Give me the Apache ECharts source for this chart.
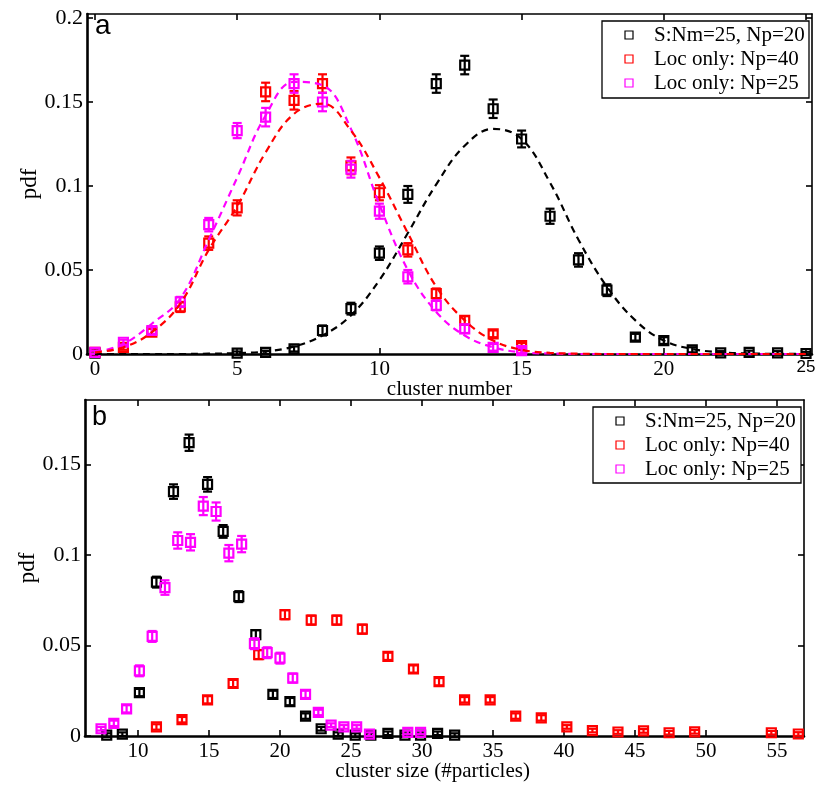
<!DOCTYPE html>
<html>
<head>
<meta charset="utf-8">
<script src="https://cdn.jsdelivr.net/npm/echarts@6/dist/echarts.min.js"></script>
<style>
html,body{margin:0;padding:0;background:#fff;}
#chart{width:818px;height:788px;}
</style>
</head>
<body>
<div id="chart"></div>
<script>
// ---------- DATA ----------
const seriesNames = ['S:Nm=25, Np=20', 'Loc only: Np=40', 'Loc only: Np=25'];

// Panel a: cluster number
const aBlackX   = [0, 5, 6, 7, 8, 9, 10, 11, 12, 13, 14, 15, 16, 17, 18, 19, 20, 21, 22, 23, 24, 25];
const aBlackY   = [0.0005, 0.0005, 0.001, 0.003, 0.014, 0.027, 0.060, 0.095, 0.161, 0.172, 0.146, 0.128, 0.082, 0.056, 0.038, 0.010, 0.008, 0.0025, 0.0007, 0.001, 0.0007, 0.0003];
const aBlackErr = [0.001, 0.001, 0.001, 0.0015, 0.003, 0.0035, 0.004, 0.005, 0.0055, 0.0055, 0.0055, 0.005, 0.0045, 0.004, 0.0035, 0.002, 0.002, 0.0015, 0.001, 0.001, 0.001, 0.001];

const aLocX     = [0, 1, 2, 3, 4, 5, 6, 7, 8, 9, 10, 11, 12, 13, 14, 15];
const aRedY     = [0.001, 0.004, 0.013, 0.028, 0.066, 0.087, 0.156, 0.151, 0.161, 0.112, 0.096, 0.062, 0.036, 0.020, 0.012, 0.005];
const aMagY     = [0.001, 0.007, 0.014, 0.031, 0.077, 0.133, 0.141, 0.161, 0.150, 0.110, 0.085, 0.046, 0.029, 0.015, 0.004, 0.002];
const aLocErr   = [0.001, 0.0015, 0.002, 0.003, 0.004, 0.0045, 0.0055, 0.0055, 0.0055, 0.005, 0.0045, 0.004, 0.003, 0.0025, 0.002, 0.0015];

// dashed fit curves (read at integer cluster numbers)
const aCurveX   = [0, 1, 2, 3, 4, 5, 6, 7, 8, 9, 10, 11, 12, 13, 14, 15, 16, 17, 18, 19, 20, 21, 22, 23, 24, 25];
const aCurveBlack = [0, 0, 0, 0, 0.0002, 0.0005, 0.0015, 0.0045, 0.011, 0.023, 0.044, 0.072, 0.101, 0.124, 0.134, 0.128, 0.102, 0.068, 0.040, 0.020, 0.008, 0.003, 0.001, 0.0003, 0.0001, 0];
const aCurveRed   = [0.001, 0.004, 0.013, 0.030, 0.062, 0.088, 0.120, 0.143, 0.149, 0.133, 0.105, 0.072, 0.040, 0.020, 0.008, 0.0025, 0.0007, 0.0002, 0, 0, 0, 0, 0, 0, 0, 0];
const aCurveMag   = [0.001, 0.006, 0.018, 0.033, 0.068, 0.105, 0.142, 0.162, 0.160, 0.134, 0.089, 0.050, 0.025, 0.011, 0.004, 0.001, 0.0003, 0, 0, 0, 0, 0, 0, 0, 0, 0];

// Panel b: cluster size
const bBlackX   = [7.8, 8.9, 10.1, 11.3, 12.5, 13.6, 14.9, 16.0, 17.1, 18.3, 19.5, 20.7, 21.8, 22.9, 24.1, 25.3, 26.4, 27.6, 28.8, 29.9, 31.1, 32.3];
const bBlackY   = [0.0005, 0.001, 0.024, 0.085, 0.135, 0.162, 0.139, 0.113, 0.077, 0.056, 0.023, 0.019, 0.011, 0.004, 0.001, 0.0005, 0.0005, 0.0015, 0.0005, 0.0005, 0.0015, 0.0005];
const bBlackErr = [0.001, 0.001, 0.002, 0.003, 0.004, 0.0045, 0.004, 0.0035, 0.003, 0.0025, 0.002, 0.002, 0.0015, 0.001, 0.001, 0.001, 0.001, 0.001, 0.001, 0.001, 0.001, 0.001];

const bRedX     = [11.3, 13.1, 14.9, 16.7, 18.5, 20.35, 22.2, 24.0, 25.8, 27.6, 29.4, 31.2, 33.0, 34.8, 36.6, 38.4, 40.2, 42.0, 43.8, 45.6, 47.4, 49.2, 54.6, 56.5];
const bRedY     = [0.005, 0.009, 0.020, 0.029, 0.045, 0.067, 0.064, 0.064, 0.059, 0.044, 0.037, 0.030, 0.020, 0.020, 0.011, 0.010, 0.005, 0.003, 0.0022, 0.0028, 0.0018, 0.0023, 0.0018, 0.0011];
const bRedErr   = [0.0015, 0.0015, 0.002, 0.002, 0.0025, 0.0025, 0.0025, 0.0025, 0.0025, 0.002, 0.002, 0.002, 0.0015, 0.0015, 0.0015, 0.0015, 0.001, 0.001, 0.001, 0.001, 0.001, 0.001, 0.001, 0.001];

const bMagX     = [7.4, 8.3, 9.2, 10.1, 11.0, 11.9, 12.8, 13.7, 14.6, 15.5, 16.4, 17.3, 18.2, 19.1, 20.0, 20.9, 21.8, 22.7, 23.6, 24.5, 25.4, 26.3, 29.0, 29.9];
const bMagY     = [0.004, 0.007, 0.015, 0.036, 0.055, 0.082, 0.108, 0.107, 0.127, 0.124, 0.101, 0.106, 0.051, 0.046, 0.043, 0.032, 0.023, 0.013, 0.006, 0.005, 0.005, 0.001, 0.002, 0.002];
const bMagErr   = [0.001, 0.0015, 0.002, 0.003, 0.003, 0.004, 0.0045, 0.0045, 0.005, 0.005, 0.0045, 0.0045, 0.003, 0.003, 0.003, 0.0025, 0.002, 0.0015, 0.001, 0.001, 0.001, 0.001, 0.001, 0.001];

// tick labels
const aXTicks = [0, 5, 10, 15, 20, 25];
const aYTicks = [0, 0.05, 0.1, 0.15, 0.2];
const bXTicks = [10, 15, 20, 25, 30, 35, 40, 45, 50, 55];
const bYTicks = [0, 0.05, 0.1, 0.15];

// ---------- STYLE ----------
const COLORS = ['#000000', '#ff0000', '#ff00ff'];
const SERIF = 'Liberation Serif';
const SANS = 'Liberation Sans';

function zip3(xs, ys, es) { return xs.map((x, i) => [x, ys[i], es[i]]); }
function zip2(xs, ys) { return xs.map((x, i) => [x, ys[i]]); }

function renderErr(params, api) {
  const x = api.value(0), y = api.value(1), e = api.value(2);
  const c = api.coord([x, y]);
  const t = api.coord([x, y + e]);
  const b = api.coord([x, y - e]);
  const h = 4.5;
  const col = api.visual('color');
  const st = { stroke: col, lineWidth: 2.2, fill: null };
  return {
    type: 'group',
    children: [
      { type: 'rect', shape: { x: c[0] - h, y: c[1] - h, width: 2 * h, height: 2 * h }, style: { stroke: col, lineWidth: 2.2, fill: 'rgba(0,0,0,0)' } },
      { type: 'line', shape: { x1: c[0], y1: t[1], x2: c[0], y2: b[1] }, style: st },
      { type: 'line', shape: { x1: c[0] - h, y1: t[1], x2: c[0] + h, y2: t[1] }, style: st },
      { type: 'line', shape: { x1: c[0] - h, y1: b[1], x2: c[0] + h, y2: b[1] }, style: st }
    ]
  };
}

function errSeries(name, colorIdx, data, axisIdx) {
  return {
    name: name, type: 'custom', renderItem: renderErr, clip: false,
    xAxisIndex: axisIdx, yAxisIndex: axisIdx,
    itemStyle: { color: COLORS[colorIdx] },
    data: data, z: 3
  };
}
function fitSeries(colorIdx, data, axisIdx) {
  return {
    name: 'fit' + colorIdx, type: 'line', smooth: 0.4, showSymbol: false, symbol: 'none',
    xAxisIndex: axisIdx, yAxisIndex: axisIdx,
    lineStyle: { color: COLORS[colorIdx], width: 2.2, type: [7, 5] },
    data: data, z: 4, silent: true
  };
}

function xAxisCfg(grid, min, max, ticks, name, pos, labelOpts, namePad) {
  const main = pos === 'bottom';
  return {
    type: 'value', gridIndex: grid, position: pos, min: min, max: max,
    splitLine: { show: false },
    axisLine: { show: true, onZero: false, lineStyle: { color: '#000', width: main ? 2.6 : 1.6 } },
    axisTick: { show: true, inside: true, length: 6, customValues: ticks, lineStyle: { color: '#000', width: 1.6 } },
    axisLabel: Object.assign({ show: main, customValues: ticks, color: '#000', fontFamily: SERIF, fontSize: 21, margin: 5 }, labelOpts || {}),
    name: main ? name : '', nameLocation: 'middle', nameGap: 25, nameMoveOverlap: false,
    nameTextStyle: { color: '#000', fontFamily: SERIF, fontSize: 21, padding: namePad || 0 }
  };
}
function yAxisCfg(grid, min, max, ticks, pos) {
  const main = pos === 'left';
  return {
    type: 'value', gridIndex: grid, position: pos, min: min, max: max,
    splitLine: { show: false },
    axisLine: { show: true, onZero: false, lineStyle: { color: '#000', width: main ? 2.6 : 1.6 } },
    axisTick: { show: true, inside: true, length: 6, customValues: ticks, lineStyle: { color: '#000', width: 1.6 } },
    axisLabel: { show: main, customValues: ticks, color: '#000', fontFamily: SERIF, fontSize: 22, margin: 4,
      formatter: v => String(+v.toFixed(3)) },
    name: main ? 'pdf' : '', nameLocation: 'middle', nameRotate: 90, nameGap: 46, nameMoveOverlap: false,
    nameTextStyle: { color: '#000', fontFamily: SERIF, fontSize: 23 }
  };
}

// legend drawn as graphic items (box, outlined square icons, real text)
function legendGraphics(box, iconX, textX, rowsY) {
  const items = [
    { type: 'rect', shape: box, style: { fill: '#fff', stroke: '#000', lineWidth: 1.3 }, z: 10, silent: true }
  ];
  seriesNames.forEach((n, i) => {
    items.push({ type: 'rect', shape: { x: iconX - 4, y: rowsY[i] - 4, width: 8, height: 8 },
      style: { fill: 'rgba(0,0,0,0)', stroke: COLORS[i], lineWidth: 1.2 }, z: 11, silent: true });
    items.push({ type: 'text', x: textX, y: rowsY[i],
      style: { text: n, fontFamily: SERIF, fontSize: 21, fill: '#000', textVerticalAlign: 'middle', verticalAlign: 'middle' }, z: 11, silent: true });
  });
  return items;
}

const chart = echarts.init(document.getElementById('chart'), null, { renderer: 'canvas' });

const option = {
  backgroundColor: '#fff',
  animation: false,
  grid: [
    { left: 87, top: 14, right: 6, bottom: 434, outerBoundsMode: 'none', containLabel: false },
    { left: 85, top: 400, right: 14, bottom: 52, outerBoundsMode: 'none', containLabel: false }
  ],
  xAxis: [
    xAxisCfg(0, -0.28, 25.21, aXTicks, 'cluster number', 'bottom', {
      formatter: v => (v === 25 ? '{s|25}' : String(v)),
      rich: { s: { fontFamily: SANS, fontSize: 17, color: '#000' } }
    }),
    xAxisCfg(1, 6.27, 56.9, bXTicks, 'cluster size (#particles)', 'bottom', null, [0, 24, 0, 0]),
    xAxisCfg(0, -0.28, 25.21, aXTicks, '', 'top'),
    xAxisCfg(1, 6.27, 56.9, bXTicks, '', 'top')
  ],
  yAxis: [
    yAxisCfg(0, 0, 0.2024, aYTicks, 'left'),
    yAxisCfg(1, 0, 0.1856, bYTicks, 'left'),
    yAxisCfg(0, 0, 0.2024, aYTicks, 'right'),
    yAxisCfg(1, 0, 0.1856, bYTicks, 'right')
  ],
  graphic: [].concat(
    legendGraphics({ x: 602, y: 21, width: 207, height: 77 }, 629, 654, [35, 59, 83]),
    legendGraphics({ x: 593, y: 407, width: 208, height: 76 }, 620, 645, [421, 445, 469]),
    [
      { type: 'text', left: 95, top: 12, style: { text: 'a', fontFamily: SANS, fontSize: 28, fill: '#000' }, z: 10 },
      { type: 'text', left: 92, top: 404, style: { text: 'b', fontFamily: SANS, fontSize: 27, fill: '#000' }, z: 10 }
    ]
  ),
  series: [
    errSeries(seriesNames[0], 0, zip3(aBlackX, aBlackY, aBlackErr), 0),
    errSeries(seriesNames[1], 1, zip3(aLocX, aRedY, aLocErr), 0),
    errSeries(seriesNames[2], 2, zip3(aLocX, aMagY, aLocErr), 0),
    fitSeries(0, zip2(aCurveX, aCurveBlack), 0),
    fitSeries(2, zip2(aCurveX, aCurveMag), 0),
    fitSeries(1, zip2(aCurveX, aCurveRed), 0),
    errSeries(seriesNames[0], 0, zip3(bBlackX, bBlackY, bBlackErr), 1),
    errSeries(seriesNames[1], 1, zip3(bRedX, bRedY, bRedErr), 1),
    errSeries(seriesNames[2], 2, zip3(bMagX, bMagY, bMagErr), 1)
  ]
};
chart.setOption(option);
</script>
</body>
</html>
